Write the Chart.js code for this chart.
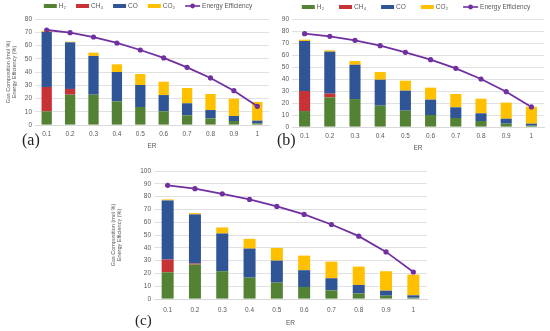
<!DOCTYPE html>
<html>
<head>
<meta charset="utf-8">
<script src="https://cdn.jsdelivr.net/npm/chart.js@4.4.0/dist/chart.umd.min.js"></script>
<style>
  body { margin: 0; background: #fff; width: 550px; height: 331px; position: relative; overflow: hidden; }
  canvas { position: absolute; }
  #chartA { left: 0; top: 0; }
  #chartB { left: 275px; top: 0; }
  #chartC { left: 100px; top: 160px; }
</style>
</head>
<body>
<canvas id="chartA" width="275" height="155"></canvas>
<canvas id="chartB" width="275" height="157"></canvas>
<canvas id="chartC" width="335" height="171"></canvas>
<script>
// categories (equivalence ratio)
const erLabels = ['0.1', '0.2', '0.3', '0.4', '0.5', '0.6', '0.7', '0.8', '0.9', '1'];
const seriesNames = ['H₂', 'CH₄', 'CO', 'CO₂', 'Energy Efficiency'];

// panel (a)
const h2A  = [10.3, 22.9, 22.9, 17.9, 13.6, 10.3, 7.3, 5.0, 3.0, 1.3];
const ch4A = [18.4, 4.3, 0, 0, 0, 0, 0, 0, 0, 0];
const coA  = [41.5, 35.2, 29.2, 22.1, 16.6, 12.3, 9.1, 6.3, 3.8, 2.0];
const co2A = [1.0, 0.5, 2.5, 5.8, 8.3, 10.1, 11.5, 12.1, 13.1, 14.1];
const effA = [71.7, 69.7, 66.4, 61.9, 56.6, 50.6, 43.5, 35.5, 25.9, 14.1];

// panel (b)
const h2B  = [13.3, 24.7, 23.3, 17.8, 13.6, 10.0, 7.5, 5.0, 2.8, 1.1];
const ch4B = [16.7, 3.1, 0, 0, 0, 0, 0, 0, 0, 0];
const coB  = [41.7, 35.0, 28.6, 21.6, 16.7, 12.8, 8.9, 6.4, 4.1, 1.7];
const co2B = [1.1, 1.1, 3.1, 6.4, 8.3, 10.0, 11.1, 12.2, 13.4, 14.1];
const effB = [77.8, 75.6, 72.2, 67.8, 62.2, 56.1, 48.9, 40.0, 29.4, 16.7];

// panel (c)
const h2C  = [20.9, 26.9, 21.7, 16.7, 12.8, 9.4, 6.8, 4.4, 2.6, 1.0];
const ch4C = [9.9, 0.8, 0, 0, 0, 0, 0, 0, 0, 0];
const coC  = [46.2, 38.4, 29.5, 22.7, 17.2, 13.1, 9.4, 6.6, 3.9, 1.9];
const co2C = [0.8, 1.0, 4.7, 7.6, 9.9, 11.4, 13.0, 14.3, 15.2, 16.2];
const effC = [88.8, 86.2, 82.2, 77.8, 72.3, 66.1, 58.2, 49.1, 36.8, 21.1];

const yTitle = ['Gas Composition (mol %)', 'Energy Efficiency (%)'];

const colors = ['#548235', '#c63236', '#2f5597', '#ffc000', '#7030a0'];
const textColor = '#595959';
const gridColor = '#d9d9d9';
const fontFamily = '"Liberation Sans", Arial, sans-serif';

// excel-style legend drawn across the top
const topLegend = {
  id: 'topLegend',
  afterDraw(chart, args, opts) {
    if (!opts.show) return;
    const ctx = chart.ctx;
    ctx.save();
    ctx.font = '6.5px ' + fontFamily;
    ctx.textBaseline = 'middle';
    const items = chart.data.datasets.map(ds => {
      const iconW = ds.type === 'line' ? 15 : 13;
      return { ds, iconW, w: iconW + 2 + ctx.measureText(ds.label).width };
    });
    const total = items.reduce((s, it) => s + it.w, 0) + opts.gap * (items.length - 1);
    let x = (chart.chartArea.left + chart.chartArea.right) / 2 - total / 2 + (opts.shift || 0);
    const y = opts.y;
    items.forEach(it => {
      if (it.ds.type === 'line') {
        ctx.strokeStyle = it.ds.borderColor;
        ctx.lineWidth = 1.6;
        ctx.beginPath();
        ctx.moveTo(x, y);
        ctx.lineTo(x + it.iconW, y);
        ctx.stroke();
        ctx.fillStyle = it.ds.borderColor;
        ctx.beginPath();
        ctx.arc(x + it.iconW / 2, y, 2.4, 0, Math.PI * 2);
        ctx.fill();
      } else {
        ctx.fillStyle = it.ds.backgroundColor;
        ctx.fillRect(x, y - 2, it.iconW, 4);
      }
      ctx.fillStyle = textColor;
      ctx.fillText(it.ds.label, x + it.iconW + 2, y + 0.5);
      x += it.w + opts.gap;
    });
    ctx.restore();
  }
};

// the (a)/(b)/(c) tag
const panelTag = {
  id: 'panelTag',
  afterDraw(chart, args, opts) {
    const ctx = chart.ctx;
    ctx.save();
    ctx.font = opts.size + 'px "Liberation Serif", "Times New Roman", serif';
    ctx.fillStyle = '#222';
    ctx.textBaseline = 'middle';
    ctx.fillText(opts.text, opts.x, opts.y);
    ctx.restore();
  }
};

function makeChart(id, h2, ch4, co, co2, eff, cfg) {
  const values = [h2, ch4, co, co2];
  const datasets = values.map((v, i) => ({
    type: 'bar',
    label: seriesNames[i],
    data: v,
    backgroundColor: colors[i],
    borderWidth: 0,
    stack: 'gas',
    order: 1,
    categoryPercentage: 1,
    barPercentage: 0.44
  }));
  datasets.push({
    type: 'line',
    label: seriesNames[4],
    data: eff,
    borderColor: colors[4],
    backgroundColor: colors[4],
    borderWidth: 1.8,
    pointRadius: 2.6,
    pointBorderWidth: 0,
    pointBackgroundColor: colors[4],
    stack: 'eff',
    order: 0,
    tension: 0
  });

  return new Chart(document.getElementById(id), {
    data: { labels: erLabels, datasets },
    plugins: [topLegend, panelTag],
    options: {
      responsive: false,
      animation: false,
      layout: { padding: { top: cfg.top, right: cfg.right, left: 0, bottom: 0 } },
      plugins: {
        legend: { display: false },
        tooltip: { enabled: false },
        topLegend: cfg.legend,
        panelTag: cfg.tag
      },
      scales: {
        x: {
          stacked: true,
          grid: { display: false, drawTicks: false },
          border: { display: true, color: gridColor, width: 1 },
          ticks: { color: textColor, font: { family: fontFamily, size: 6.5 }, padding: cfg.xTickPad, maxRotation: 0 },
          title: { display: true, text: 'ER', color: textColor, font: { family: fontFamily, size: 6.5 }, padding: { top: 0, bottom: cfg.erPad } },
          afterFit: s => { s.height = cfg.xHeight; }
        },
        y: {
          stacked: true,
          min: 0,
          max: cfg.yMax,
          grid: { color: gridColor, lineWidth: 0.8, drawTicks: false },
          border: { display: false },
          ticks: { stepSize: 10, color: textColor, font: { family: fontFamily, size: 6.5 }, padding: 3 },
          title: {
            display: cfg.yTitle,
            text: yTitle,
            color: textColor,
            font: { family: fontFamily, size: 5.5, lineHeight: 1 },
            padding: { top: cfg.yTitlePad, bottom: 0 }
          },
          afterFit: s => { s.width = cfg.yWidth; }
        }
      }
    }
  });
}

makeChart('chartA', h2A, ch4A, coA, co2A, effA, {
  top: 19, right: 6, yWidth: 35, xHeight: 30, yMax: 80, xTickPad: 5, erPad: 5,
  yTitle: true, yTitlePad: 6,
  legend: { show: true, y: 6, gap: 10, shift: -4 },
  tag: { text: '(a)', x: 22, y: 141, size: 16 }
});

makeChart('chartB', h2B, ch4B, coB, co2B, effB, {
  top: 19, right: 6, yWidth: 17, xHeight: 30, yMax: 90, xTickPad: 5, erPad: 5,
  yTitle: false, yTitlePad: 0,
  legend: { show: true, y: 7, gap: 15, shift: -2 },
  tag: { text: '(b)', x: 2, y: 141, size: 16 }
});

makeChart('chartC', h2C, ch4C, coC, co2C, effC, {
  top: 11, right: 8, yWidth: 54, xHeight: 32, yMax: 100, xTickPad: 7, erPad: 4,
  yTitle: true, yTitlePad: 11,
  legend: { show: false },
  tag: { text: '(c)', x: 35, y: 161, size: 15 }
});
</script>
</body>
</html>
